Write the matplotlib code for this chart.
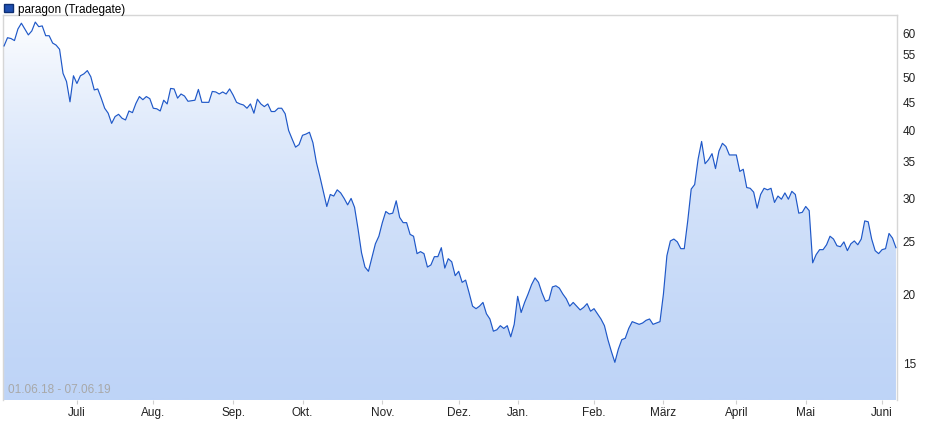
import numpy as np
import pandas as pd
import matplotlib
matplotlib.use('Agg')
import matplotlib.pyplot as plt
from matplotlib.patches import Patch, Polygon
from matplotlib.ticker import NullLocator, NullFormatter, FixedLocator

plt.rcParams['font.family'] = ['Liberation Sans', 'DejaVu Sans']

# closing prices, one per trading day (01.06.18 - 07.06.19)
prices = [56.8, 58.8, 58.6, 58.1, 61.0, 62.5, 61.0, 59.5, 60.5, 62.8,
          61.6, 61.8, 59.3, 59.3, 57.5, 57.0, 56.0, 50.6, 48.9, 44.9,
          50.1, 48.5, 50.1, 50.5, 51.2, 49.9, 47.2, 47.4, 45.6, 43.7,
          42.8, 41.0, 42.2, 42.6, 41.9, 41.6, 43.2, 42.9, 44.6, 45.9,
          45.3, 45.9, 45.5, 43.7, 43.6, 43.2, 45.2, 44.5, 47.5, 47.4,
          45.6, 46.4, 46.0, 45.0, 45.1, 45.2, 47.3, 44.8, 44.8, 44.8,
          46.9, 46.8, 46.4, 46.8, 46.4, 47.4, 46.2, 44.8, 44.5, 44.3,
          43.7, 44.5, 42.8, 45.4, 44.5, 44.0, 44.5, 43.1, 43.1, 43.7,
          43.7, 42.7, 39.8, 38.4, 37.1, 37.5, 39.0, 39.2, 39.5, 37.8,
          34.8, 32.8, 30.8, 28.9, 30.4, 30.2, 31.0, 30.6, 29.9, 29.1,
          29.9, 28.8, 26.3, 23.8, 22.4, 22.0, 23.3, 24.7, 25.5, 27.0,
          28.3, 28.0, 28.1, 29.6, 27.6, 27.0, 27.0, 25.7, 25.5, 23.7,
          23.9, 23.7, 22.4, 22.6, 23.4, 23.4, 24.3, 22.3, 23.2, 22.9,
          21.6, 22.0, 21.0, 21.2, 20.1, 19.0, 18.8, 19.0, 19.3, 18.4,
          18.0, 17.1, 17.2, 17.5, 17.3, 17.5, 16.7, 17.6, 19.8, 18.5,
          19.3, 20.0, 20.8, 21.4, 21.0, 20.1, 19.4, 19.5, 20.6, 20.7,
          20.5, 20.0, 19.6, 19.0, 19.3, 19.0, 18.7, 18.9, 19.2, 18.6,
          18.8, 18.4, 18.0, 17.5, 16.5, 15.7, 15.0, 15.85, 16.5, 16.6,
          17.3, 17.8, 17.7, 17.6, 17.7, 17.9, 18.0, 17.6, 17.7, 17.8,
          20.0, 23.5, 25.0, 25.2, 24.9, 24.2, 24.2, 27.2, 31.1, 31.7,
          35.3, 38.0, 34.6, 35.2, 36.1, 33.9, 36.5, 37.7, 37.2, 35.9,
          35.9, 35.9, 33.5, 33.8, 31.3, 31.2, 30.7, 28.7, 30.4, 31.2,
          31.0, 31.2, 29.4, 30.2, 29.8, 30.6, 29.8, 30.8, 30.4, 28.1,
          28.2, 28.9, 28.4, 22.8, 23.6, 24.1, 24.1, 24.6, 25.5, 25.2,
          24.5, 24.4, 24.9, 24.0, 24.7, 25.0, 24.6, 25.2, 27.2, 27.1,
          25.2, 24.0, 23.7, 24.1, 24.2, 25.8, 25.3, 24.3]

holidays = ['2018-12-24', '2018-12-25', '2018-12-26', '2018-12-31',
            '2019-01-01', '2019-04-19', '2019-04-22', '2019-05-01']
month_labels = ['Juli', 'Aug.', 'Sep.', 'Okt.', 'Nov.', 'Dez.',
                'Jan.', 'Feb.', 'März', 'April', 'Mai', 'Juni']
y_ticks = [15, 20, 25, 30, 35, 40, 45, 50, 55, 60]

dates = pd.bdate_range('2018-06-01', '2019-06-07').drop(pd.to_datetime(holidays))
months = np.asarray(dates.month)
month_starts = np.flatnonzero(np.diff(months) != 0) + 1

x = np.arange(len(prices))
y = np.array(prices)

fig = plt.figure(figsize=(9.4, 4.35), dpi=100)
ax = fig.add_axes([3 / 940, 1 - 401 / 435, 894 / 940, 385 / 435])
ax.set_yscale('log')
ylo, yhi = 12.8, 64.7
ax.set_xlim(-0.3, 257.3)
ax.set_ylim(ylo, yhi)

# gradient fill below the line
grad = np.linspace(0, 1, 256).reshape(-1, 1)
c_top = np.array([1.0, 1.0, 1.0])
c_bot = np.array([0xbe, 0xd4, 0xf7]) / 255
img = c_top + (c_bot - c_top) * grad[..., None]
im = ax.imshow(img, aspect='auto', extent=(-0.3, 257.3, ylo, yhi),
               origin='upper', zorder=1)
poly = Polygon(np.column_stack([np.r_[x[0], x, x[-1]],
                                np.r_[ylo, y, ylo]]),
               closed=True, facecolor='none', edgecolor='none')
ax.add_patch(poly)
im.set_clip_path(poly)

ax.plot(x, y, color='#1f58c8', lw=0.85, zorder=3)

# axes styling
for side in ['left', 'top', 'right']:
    ax.spines[side].set_color('#d6d6d6')
    ax.spines[side].set_linewidth(1)
ax.spines['bottom'].set_visible(False)

ax.yaxis.tick_right()
ax.yaxis.set_major_locator(FixedLocator(y_ticks))
ax.yaxis.set_minor_locator(NullLocator())
ax.yaxis.set_minor_formatter(NullFormatter())
ax.set_yticklabels([str(t) for t in y_ticks])
ax.tick_params(axis='y', length=0, pad=4, labelsize=8.5, labelcolor='#222222')

ax.set_xticks(month_starts)
ax.set_xticklabels(month_labels)
ax.tick_params(axis='x', length=3, color='#d0d0d0', pad=1, labelsize=8.5,
               labelcolor='#222222')

ax.text(0.006, 0.012, '01.06.18 - 07.06.19', transform=ax.transAxes,
        fontsize=8.5, color='#a8a8a8', ha='left', va='bottom')

leg = fig.legend(handles=[Patch(facecolor='#1f4fb0', edgecolor='#0e2f73',
                                label='paragon (Tradegate)')],
                 loc='upper left', bbox_to_anchor=(0.0, 1.0), frameon=False,
                 handlelength=0.75, handleheight=0.75, handletextpad=0.45,
                 borderaxespad=0, borderpad=0.35, fontsize=8.5)

fig.savefig('out.png', dpi=100)
